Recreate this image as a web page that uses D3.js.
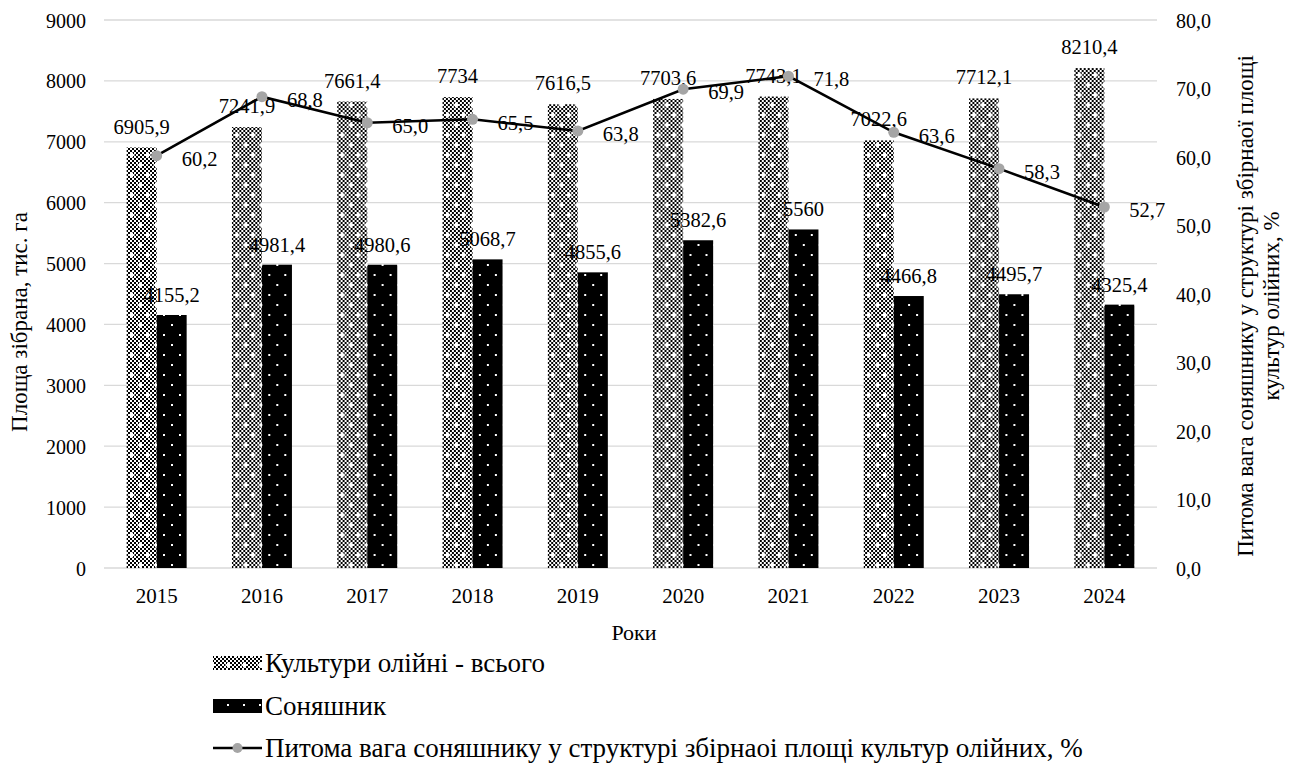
<!DOCTYPE html>
<html><head><meta charset="utf-8">
<script src="https://cdn.jsdelivr.net/npm/d3@7"></script>
</head>
<body style="margin:0;background:#fff"><svg id="c" width="1293" height="767"></svg>
<script>
const years = ["2015","2016","2017","2018","2019","2020","2021","2022","2023","2024"];
const oilseeds = [6905.9, 7241.9, 7661.4, 7734, 7616.5, 7703.6, 7743.1, 7022.6, 7712.1, 8210.4];
const sunflower = [4155.2, 4981.4, 4980.6, 5068.7, 4855.6, 5382.6, 5560, 4466.8, 4495.7, 4325.4];
const share = [60.2, 68.8, 65.0, 65.5, 63.8, 69.9, 71.8, 63.6, 58.3, 52.7];
const leftTicks = [0,1000,2000,3000,4000,5000,6000,7000,8000,9000];
const rightTicks = [0,10,20,30,40,50,60,70,80];
const seriesNames = ["Культури олійні - всього","Соняшник","Питома вага соняшнику у структурі збірнаоі площі культур олійних, %"];
const leftTitle = "Площа зібрана, тис. га";
const rightTitle = ["Питома вага соняшнику у структурі збірнаої площі","культур олійних, %"];
const xTitle = "Роки";

const FONT = '"Liberation Serif", "Tinos", "Times New Roman", "FreeSerif"';
const svg = d3.select("#c");
const L=104, R=1157, T=20, B=568;
const x0 = d3.scaleBand().domain(years).range([L,R]).padding(0);
const bw = x0.bandwidth();
const gw = 60;
const x1 = d3.scaleBand().domain(["oil","sun"]).range([(bw-gw)/2,(bw+gw)/2]).padding(0);
const y = d3.scaleLinear().domain([0,9000]).range([B,T]);
const y2 = d3.scaleLinear().domain([0,80]).range([B,T]);

function txt(sel, size){ return sel.style("font-family",FONT).style("font-size",size+"px").style("fill","#000"); }

// patterns
const defs = svg.append("defs");
const p1 = defs.append("pattern").attr("id","pOil").attr("patternUnits","userSpaceOnUse").attr("width",16).attr("height",20);
p1.append("rect").attr("width",16).attr("height",20).attr("fill","#fff");
for(let i=0;i<8;i++)for(let j=0;j<10;j++){ if((i+j)%2===0) p1.append("rect").attr("x",i*2).attr("y",j*2).attr("width",2).attr("height",2).attr("fill","#000"); }
[[4,5],[12,15]].forEach(([cx,cy])=>{
  p1.append("rect").attr("x",cx-1).attr("y",cy-2.5).attr("width",2).attr("height",5).attr("fill","#fff");
  p1.append("rect").attr("x",cx-2.5).attr("y",cy-1).attr("width",5).attr("height",2).attr("fill","#fff");
});
const p2 = defs.append("pattern").attr("id","pSun").attr("patternUnits","userSpaceOnUse").attr("width",16).attr("height",20);
p2.append("rect").attr("width",16).attr("height",20).attr("fill","#000");
[[4,5],[12,15]].forEach(([cx,cy])=>{
  p2.append("rect").attr("x",cx-1).attr("y",cy-1).attr("width",2).attr("height",2).attr("fill","#fff");
});

// gridlines
svg.append("g").selectAll("line").data(leftTicks).join("line")
  .attr("x1",L).attr("x2",R).attr("y1",d=>y(d)).attr("y2",d=>y(d))
  .attr("stroke","#d9d9d9").attr("stroke-width",1.3);

// left axis
const yAxis = d3.axisLeft(y).tickValues(leftTicks).tickSize(0).tickPadding(0).tickFormat(d=>String(d));
const gy = svg.append("g").attr("transform",`translate(86,0)`).call(yAxis);
gy.attr("font-family",null).attr("font-size",null);
gy.select(".domain").remove();
txt(gy.selectAll("text"),20).attr("dy","0.35em");

// right axis
const yAxis2 = d3.axisRight(y2).tickValues(rightTicks).tickSize(0).tickPadding(0).tickFormat(d=>d.toFixed(1).replace(".",","));
const gy2 = svg.append("g").attr("transform",`translate(1176,0)`).call(yAxis2);
gy2.attr("font-family",null).attr("font-size",null);
gy2.select(".domain").remove();
txt(gy2.selectAll("text"),20).attr("dy","0.35em");

// x axis
const xAxis = d3.axisBottom(x0).tickSize(0).tickPadding(0);
const gx = svg.append("g").attr("transform",`translate(0,${B+28})`).call(xAxis);
gx.attr("font-family",null).attr("font-size",null);
gx.select(".domain").remove();
txt(gx.selectAll("text"),21).attr("dy","0.35em");

// bars
const fmt = v => String(v).replace(".",",");
const groups = svg.append("g").selectAll("g").data(years).join("g").attr("transform",d=>`translate(${x0(d)},0)`);
groups.append("rect").attr("x",x1("oil")).attr("width",x1.bandwidth())
  .attr("y",(d,i)=>y(oilseeds[i])).attr("height",(d,i)=>B-y(oilseeds[i])).attr("fill","url(#pOil)");
groups.append("rect").attr("x",x1("sun")).attr("width",x1.bandwidth())
  .attr("y",(d,i)=>y(sunflower[i])).attr("height",(d,i)=>B-y(sunflower[i])).attr("fill","url(#pSun)");
txt(groups.append("text").attr("x",x1("oil")+x1.bandwidth()/2).attr("y",(d,i)=>y(oilseeds[i])-14)
  .attr("text-anchor","middle").text((d,i)=>fmt(oilseeds[i])),20.5);
txt(groups.append("text").attr("x",x1("sun")+x1.bandwidth()/2).attr("y",(d,i)=>y(sunflower[i])-13)
  .attr("text-anchor","middle").text((d,i)=>fmt(sunflower[i])),20.5);

// line
const cx = d => x0(d)+bw/2;
const line = d3.line().x((d,i)=>cx(years[i])).y(d=>y2(d));
svg.append("path").datum(share).attr("d",line).attr("fill","none").attr("stroke","#000").attr("stroke-width",2.6);
svg.append("g").selectAll("circle").data(share).join("circle")
  .attr("cx",(d,i)=>cx(years[i])).attr("cy",d=>y2(d)).attr("r",5.5).attr("fill","#a5a5a5");
txt(svg.append("g").selectAll("text").data(share).join("text")
  .attr("x",(d,i)=>cx(years[i])+25).attr("y",d=>y2(d)+3).attr("dy","0.35em")
  .text(d=>d.toFixed(1).replace(".",",")),20.5);

// axis titles
txt(svg.append("text").attr("transform","translate(27,322) rotate(-90)").attr("text-anchor","middle").text(leftTitle),23);
txt(svg.append("text").attr("transform","translate(1253,306) rotate(-90)").attr("text-anchor","middle").text(rightTitle[0]),23);
txt(svg.append("text").attr("transform","translate(1279,306) rotate(-90)").attr("text-anchor","middle").text(rightTitle[1]),23);
txt(svg.append("text").attr("x",634).attr("y",640).attr("text-anchor","middle").text(xTitle),22);

// legend
const lg = svg.append("g");
const ly = [663,706,748];
lg.append("rect").attr("x",213).attr("y",ly[0]-7).attr("width",49).attr("height",14).attr("fill","url(#pOil)");
lg.append("rect").attr("x",213).attr("y",ly[1]-7).attr("width",49).attr("height",14).attr("fill","url(#pSun)");
lg.append("line").attr("x1",213).attr("x2",262).attr("y1",ly[2]).attr("y2",ly[2]).attr("stroke","#000").attr("stroke-width",2.6);
lg.append("circle").attr("cx",237.5).attr("cy",ly[2]).attr("r",5).attr("fill","#a5a5a5");
txt(lg.selectAll("text.l").data(seriesNames).join("text").attr("class","l")
  .attr("x",265).attr("y",(d,i)=>ly[i]).attr("dy","0.35em").text(d=>d),27);
</script></body></html>
